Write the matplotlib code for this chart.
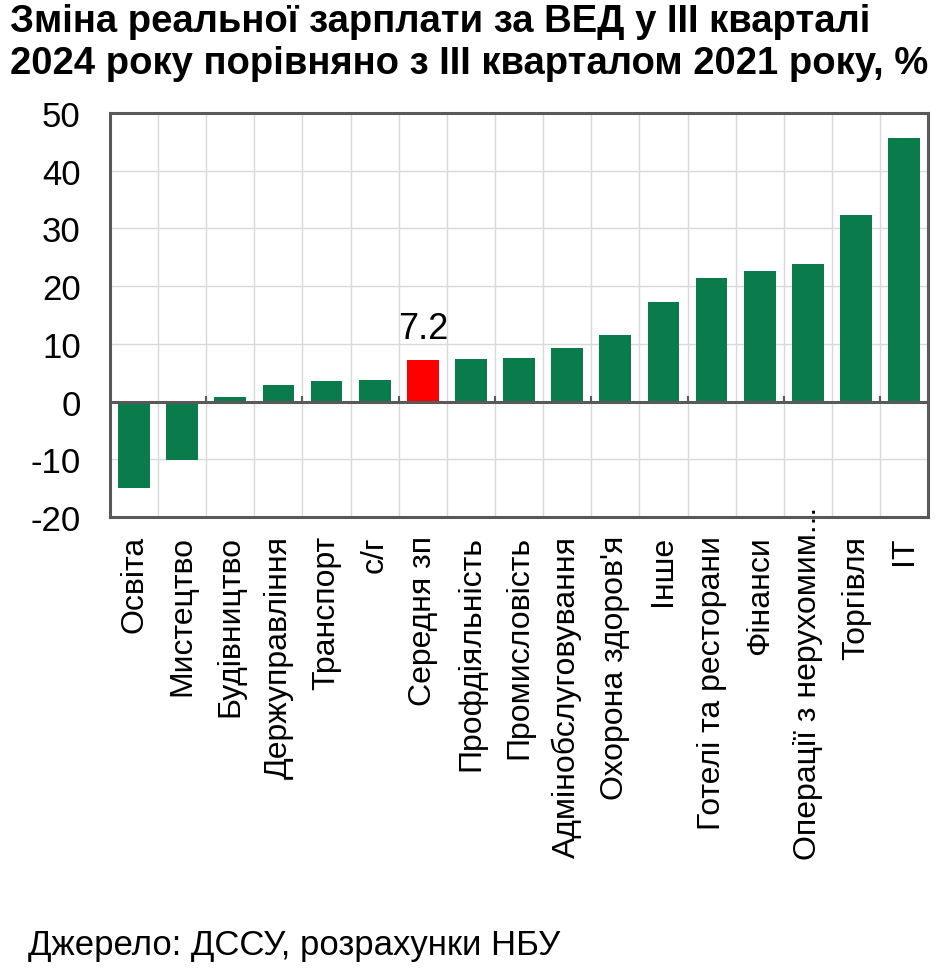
import matplotlib
matplotlib.use("Agg")
import matplotlib.pyplot as plt
import numpy as np
from matplotlib.transforms import ScaledTranslation

categories = ["Освіта", "Мистецтво", "Будівництво", "Держуправління", "Транспорт",
              "с/г", "Середня зп", "Профдіяльність", "Промисловість",
              "Адмінобслуговування", "Охорона здоров'я", "Інше",
              "Готелі та ресторани", "Фінанси", "Операції з нерухомим...",
              "Торгівля", "ІТ"]
values = [-15.0, -10.2, 0.8, 2.85, 3.5, 3.8, 7.2, 7.4, 7.5, 9.2, 11.5, 17.2,
          21.4, 22.6, 23.8, 32.4, 45.6]
highlight = "Середня зп"
yticks = [-20, -10, 0, 10, 20, 30, 40, 50]

title = "Зміна реальної зарплати за ВЕД у ІІІ кварталі\n2024 року порівняно з ІІІ кварталом 2021 року, %"
source = "Джерело: ДССУ, розрахунки НБУ"

plt.rcParams['font.family'] = ['Liberation Sans', 'DejaVu Sans']

GREEN = "#0a7b4b"
RED = "#ff0000"
FRAME = "#595959"
GRID = "#d9d9d9"

fig = plt.figure(figsize=(9.52, 9.79), dpi=100)
ax = fig.add_axes([0.1155, 0.4709, 0.8595, 0.4127])

x = np.arange(len(categories))
colors = [RED if c == highlight else GREEN for c in categories]
ax.bar(x, values, width=0.66, color=colors, zorder=3)

ax.set_xlim(-0.5, len(categories) - 0.5)
ax.set_ylim(-20, 50)
ax.set_yticks(yticks)
ax.set_yticklabels([str(v) for v in yticks], fontsize=25)
ax.tick_params(axis='y', length=0, pad=21)

ax.set_xticks(x)
ax.set_xticklabels(categories, rotation=90, fontsize=23, va='top', ha='center')
ax.tick_params(axis='x', length=0, pad=13)

# the truncated label overflows upward into the plot
lab = ax.get_xticklabels()[categories.index("Операції з нерухомим...")]
lab.set_transform(lab.get_transform() + ScaledTranslation(0, 29 / 100, fig.dpi_scale_trans))

# grid: vertical at category boundaries, horizontal at y ticks
for b in np.arange(len(categories) + 1) - 0.5:
    ax.axvline(b, color=GRID, lw=1, zorder=1)
for yv in yticks:
    ax.axhline(yv, color=GRID, lw=1, zorder=1)

ax.axhline(0, color=FRAME, lw=2.2, zorder=4)
# small tick marks on zero line every two categories
for b in np.arange(1, len(categories), 2) + 0.5:
    ax.plot([b, b], [0, 0.9], color=FRAME, lw=1.5, zorder=4, solid_capstyle='butt')

for s in ax.spines.values():
    s.set_color(FRAME)
    s.set_linewidth(2.2)

i = categories.index(highlight)
ax.text(x[i], values[i] + 3.8, f"{values[i]:.1f}", ha='center', va='baseline', fontsize=26)

fig.text(0.010, 0.996, title, fontsize=27.5, fontweight='bold', ha='left', va='top', linespacing=1.2)
fig.text(0.029, 0.034, source, fontsize=25, ha='left', va='center')

fig.savefig("out.png", dpi=100)
